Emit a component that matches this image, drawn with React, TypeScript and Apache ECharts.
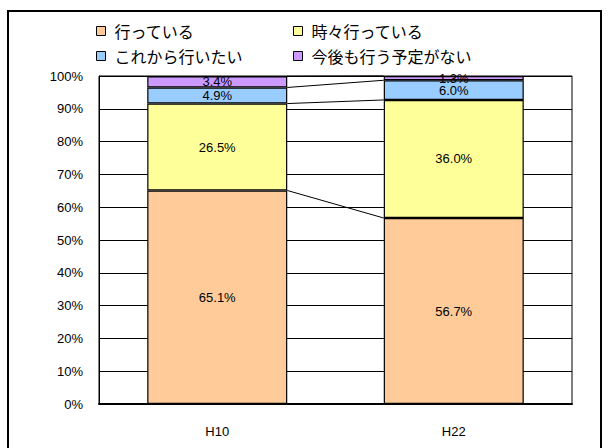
import React, { useEffect, useRef } from "react";
import * as echarts from "echarts";

const categories = ["H10", "H22"];
const seriesNames = ["行っている", "時々行っている", "これから行いたい", "今後も行う予定がない"];
const colors = ["#FFCC99", "#FFFF99", "#99CCFF", "#CC99FF"];
const valuesH10 = [65.1, 26.5, 4.9, 3.4];
const valuesH22 = [56.7, 36.0, 6.0, 1.3];
const yTicks = [0, 10, 20, 30, 40, 50, 60, 70, 80, 90, 100];

const FONT = "'Liberation Sans', 'Noto Sans CJK JP', sans-serif";
const BAR_WIDTH = 140;

export default function App() {
  const ref = useRef<HTMLDivElement>(null);
  useEffect(() => {
    if (!ref.current) return;
    const chart = echarts.init(ref.current, undefined, { renderer: "svg" });

    // cumulative tops for series lines
    const levels: number[][] = [];
    let c0 = 0, c1 = 0;
    for (let i = 0; i < seriesNames.length; i++) {
      c0 += valuesH10[i];
      c1 += valuesH22[i];
      levels.push([0, +c0.toFixed(1), +c1.toFixed(1)]);
    }

    const barSeries = seriesNames.map((name, i) => ({
      name,
      type: "bar",
      stack: "total",
      barWidth: BAR_WIDTH,
      data: [valuesH10[i], valuesH22[i]],
      itemStyle: { color: colors[i], borderColor: "#000", borderWidth: 1.2 },
      label: {
        show: true,
        position: "inside",
        formatter: (p: any) => p.value.toFixed(1) + "%",
        color: "#000",
        fontSize: 13,
        fontFamily: FONT,
      },
      z: 2,
    }));

    const legendPos = [
      { left: 96, top: 23 },
      { left: 293, top: 23 },
      { left: 96, top: 48 },
      { left: 293, top: 48 },
    ];

    chart.setOption({
      animation: false,
      textStyle: { fontFamily: FONT },
      graphic: [
        {
          type: "rect",
          z: 100,
          left: 7,
          top: 10,
          shape: { width: 593, height: 450 },
          style: { fill: "rgba(0,0,0,0)", stroke: "#000", lineWidth: 2 },
          silent: true,
        },
      ],
      legend: seriesNames.map((n, i) => ({
        data: [n],
        left: legendPos[i].left,
        top: legendPos[i].top,
        padding: 0,
        itemWidth: 9,
        itemHeight: 9,
        itemGap: 4,
        icon: "rect",
        selectedMode: false,
        textStyle: {
          fontSize: 16,
          color: "#000",
          fontFamily: "'Noto Sans CJK JP', sans-serif",
          padding: [0, 0, 0, 4],
        },
        itemStyle: { borderColor: "#000", borderWidth: 1 },
      })),
      grid: { left: 99, right: 36, top: 76, bottom: 44, show: true, borderColor: "#000", borderWidth: 1 },
      xAxis: {
        type: "category",
        data: categories,
        axisLine: { show: true, lineStyle: { color: "#000", width: 2 } },
        axisTick: { show: false },
        axisLabel: { color: "#000", fontSize: 13, margin: 21, fontFamily: FONT },
      },
      yAxis: {
        type: "value",
        min: 0,
        max: 100,
        interval: 10,
        axisLine: { show: true, lineStyle: { color: "#000" } },
        axisTick: { show: false },
        axisLabel: {
          color: "#000",
          fontSize: 13,
          margin: 16,
          fontFamily: FONT,
          formatter: (v: number) => (yTicks.includes(v) ? v + "%" : ""),
        },
        splitLine: { show: true, lineStyle: { color: "#000", width: 1 } },
      },
      series: [
        ...barSeries,
        {
          name: "seriesLines",
          type: "custom",
          encode: { x: 0, y: 1 },
          data: levels,
          z: 3,
          silent: true,
          renderItem: (params: any, api: any) => {
            const a = api.value(1);
            const b = api.value(2);
            const p0 = api.coord([0, a]);
            const p1 = api.coord([1, b]);
            const half = BAR_WIDTH / 2;
            return {
              type: "line",
              shape: { x1: p0[0] + half, y1: p0[1], x2: p1[0] - half, y2: p1[1] },
              style: { stroke: "#000", lineWidth: 1 },
            };
          },
        },
      ],
    });
    return () => chart.dispose();
  }, []);
  return (
    <div
      ref={ref}
      style={{ position: "fixed", left: 0, top: 0, width: 608, height: 448, background: "#fff" }}
    />
  );
}
